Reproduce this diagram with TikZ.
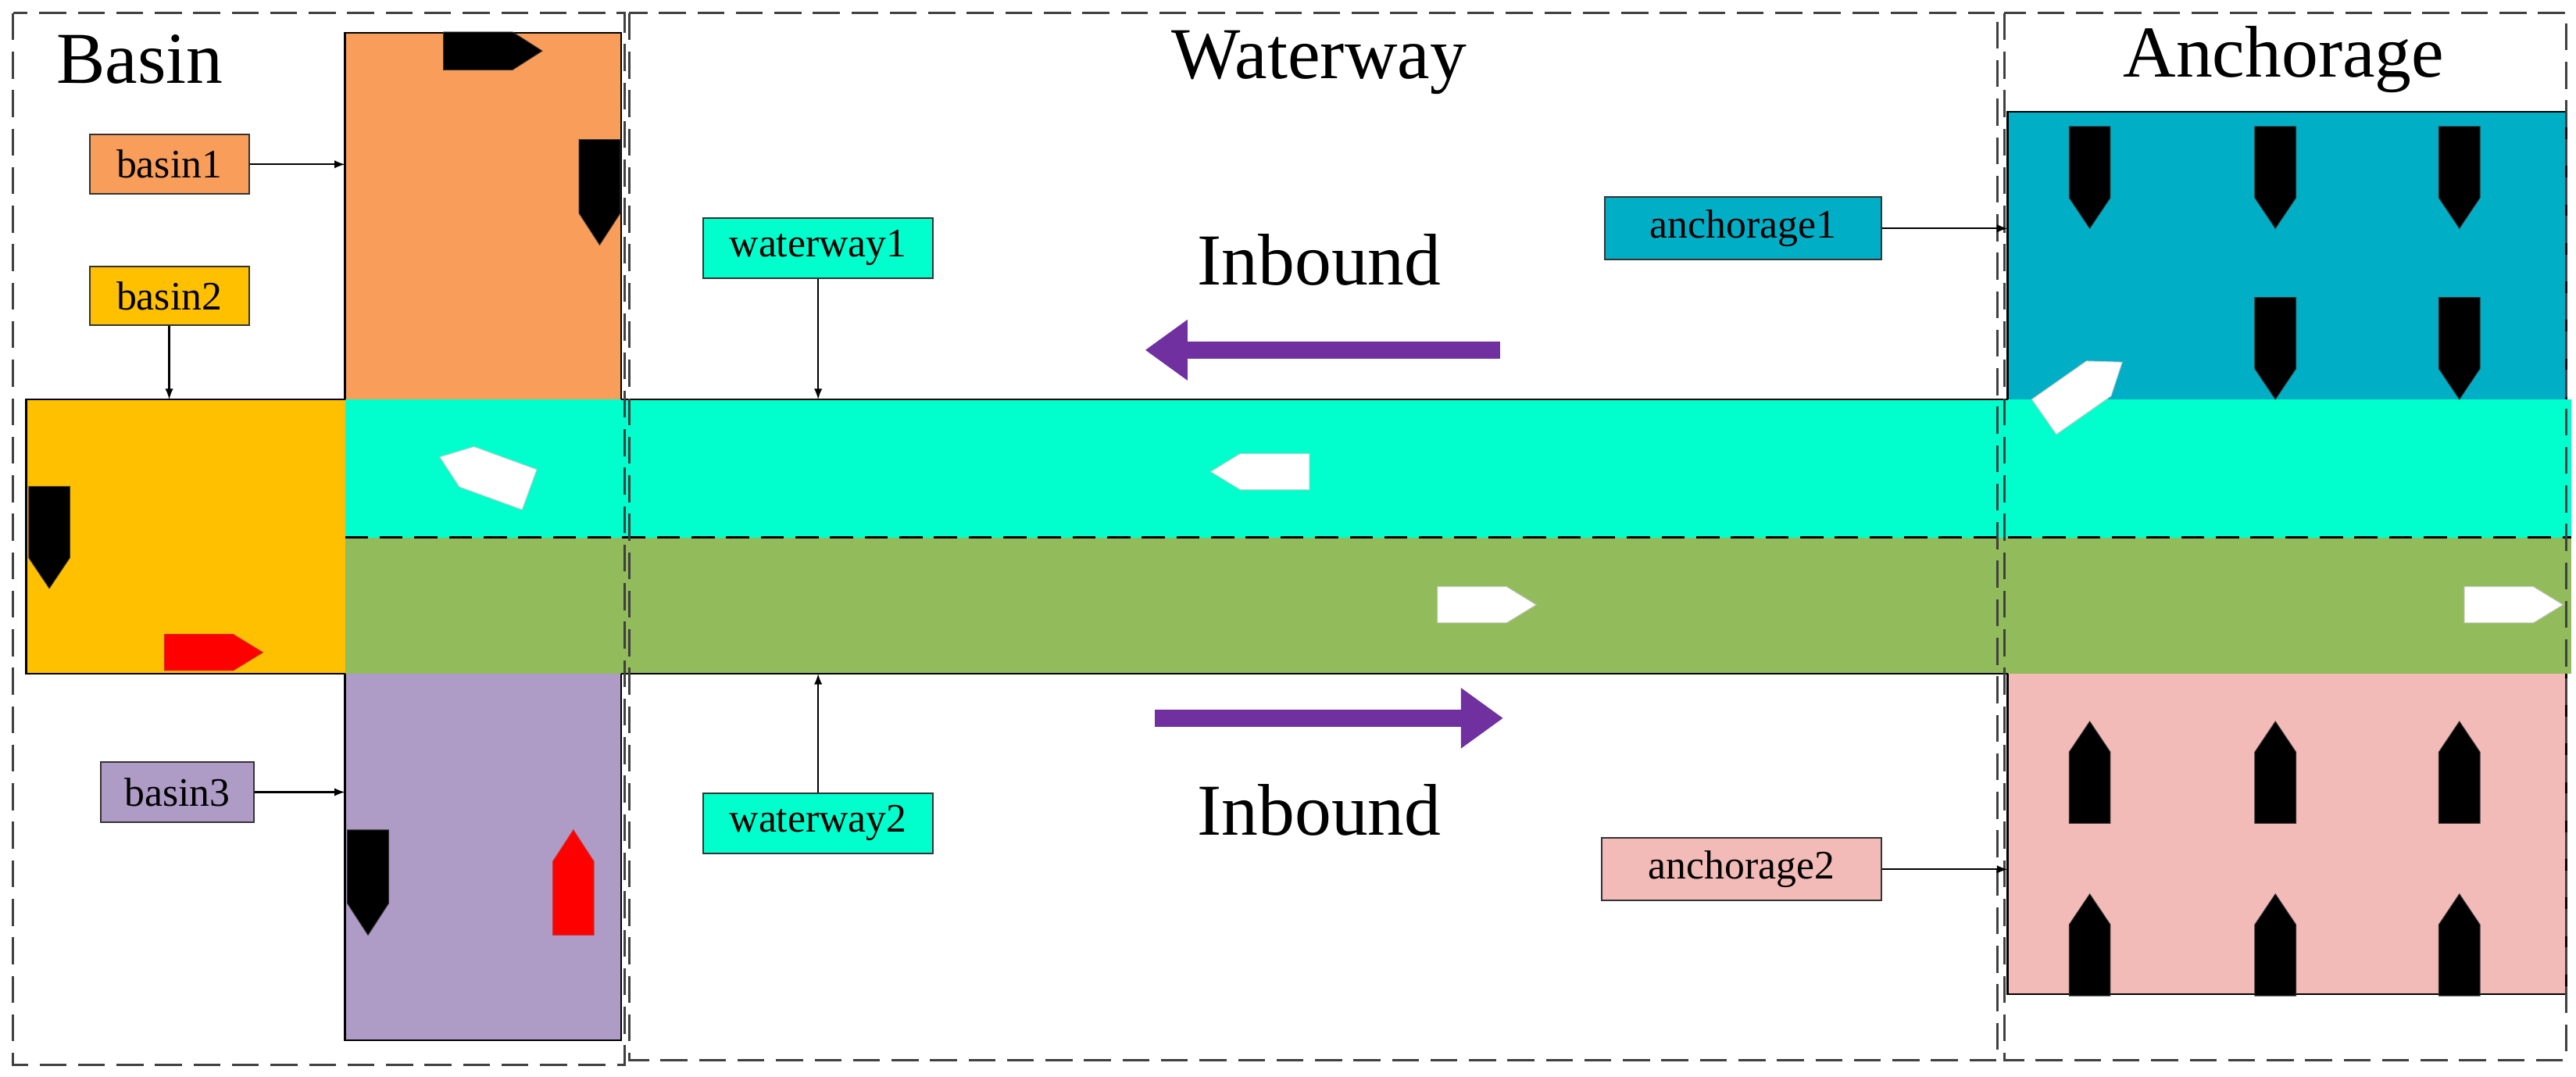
\documentclass[tikz,border=0pt]{standalone}
\usepackage{fontspec}
\setmainfont{Liberation Serif}
\begin{document}
\begin{tikzpicture}[x=0.03cm,y=-0.03cm,
  dbox/.style={draw=black!75,dashed,line width=1.2pt,dash pattern=on 14pt off 6pt},
  lbl/.style={draw=black!80,line width=0.8pt,inner sep=0pt,font=\fontsize{21}{24}\selectfont},
  ttl/.style={font=\fontsize{38}{44}\selectfont},
  arr/.style={-latex,line width=0.9pt},
  big/.style={-{Triangle[length=22pt,width=30pt]},line width=9pt,draw={rgb,255:red,112;green,48;blue,160}}]
\usetikzlibrary{arrows.meta}
\definecolor{cOr}{HTML}{F89D5A}\definecolor{cYe}{HTML}{FFC000}
\definecolor{cCy}{HTML}{00FFCC}\definecolor{cGr}{HTML}{92BB5B}
\definecolor{cPu}{HTML}{AF9CC6}\definecolor{cBl}{HTML}{00AEC6}
\definecolor{cPk}{HTML}{F3BBB7}
\newcommand\ship[6]{\begin{scope}[shift={(#1,#2)},rotate=#3]
 \fill[#4,draw=#4!60!gray] (-#5/2,-#6/2)--(#5/5,-#6/2)--(#5/2,0)--(#5/5,#6/2)--(-#5/2,#6/2)--cycle;\end{scope}}
\useasboundingbox (0,0) rectangle (1568,655);
% regions
\fill[cOr] (210,20) rectangle (378,243);
\draw[line width=1pt] (210,243)--(210,20)--(378,20)--(378,243);
\fill[cYe] (16,243) rectangle (210,410);
\draw[line width=1pt] (210,243)--(16,243)--(16,410)--(210,410);
\fill[cCy] (210,243) rectangle (1565,327);
\fill[cGr] (210,327) rectangle (1565,410);
\draw[dashed,line width=1.2pt,dash pattern=on 12pt off 6pt] (210,327)--(1565,327);
\fill[cPu] (210,410) rectangle (378,633);
\draw[line width=1pt] (210,410)--(210,633)--(378,633)--(378,410);
\fill[cBl] (1222,68) rectangle (1562,243);
\draw[line width=1pt] (1222,243)--(1222,68)--(1562,68)--(1562,243);
\fill[cPk] (1222,410) rectangle (1562,605);
\draw[line width=1pt] (1222,410)--(1222,605)--(1562,605)--(1562,410);
\draw[line width=1pt] (378,243)--(1222,243) (378,410)--(1222,410);
% dashed frames
\draw[dbox] (8,8) rectangle (380,648);
\draw[dbox] (383,8) rectangle (1216,645);
\draw[dbox] (1220,8) rectangle (1562,645);
% titles
\node[ttl] (tB) at (85,36) {Basin};
\node[ttl] (tW) at (803,38) {Waterway};
\node[ttl] (tA) at (1390,36) {Anchorage};
\node[ttl] (i1) at (803,158) {Inbound};
\node[ttl] (i2) at (803,493) {Inbound};
% purple arrows
\coordinate (p1a) at (913,213); \coordinate (p1b) at (697,213);
\coordinate (p2a) at (703,437); \coordinate (p2b) at (915,437);
\draw[big] (p1a)--(p1b);
\draw[big] (p2a)--(p2b);
% labels
\node[lbl,fill=cOr,minimum width=97\pgflinewidth,text width=2.91cm,align=center,minimum height=1.08cm] (b1) at (103,100) {basin1};
\node[lbl,fill=cYe,text width=2.91cm,align=center,minimum height=1.08cm] (b2) at (103,180) {basin2};
\node[lbl,fill=cPu,text width=2.79cm,align=center,minimum height=1.11cm] (b3) at (108,482) {basin3};
\node[lbl,fill=cCy,text width=4.2cm,align=center,minimum height=1.11cm] (w1) at (498,151) {waterway1};
\node[lbl,fill=cCy,text width=4.2cm,align=center,minimum height=1.11cm] (w2) at (498,501) {waterway2};
\node[lbl,fill=cBl,text width=5.04cm,align=center,minimum height=1.14cm] (a1) at (1061,139) {anchorage1};
\node[lbl,fill=cPk,text width=5.1cm,align=center,minimum height=1.14cm] (a2) at (1060,529) {anchorage2};
\coordinate (eb1) at (210,100); \coordinate (eb2) at (103,243);
\coordinate (eb3) at (210,482); \coordinate (ew1) at (498,243);
\coordinate (ew2) at (498,410); \coordinate (ea1) at (1222,139);
\coordinate (ea2) at (1222,529);
\draw[arr] (b1)--(eb1); \draw[arr] (b2)--(eb2); \draw[arr] (b3)--(eb3);
\draw[arr] (w1)--(ew1); \draw[arr] (w2)--(ew2);
\draw[arr] (a1)--(ea1); \draw[arr] (a2)--(ea2);
% ships
\ship{300}{31}{0}{black}{60}{23}
\ship{365}{117}{-90}{black}{64}{25}
\ship{30}{327}{-90}{black}{62}{25}
\ship{130}{397}{0}{red}{60}{22}
\ship{224}{537}{-90}{black}{64}{25}
\ship{349}{537}{90}{red}{64}{25}
\foreach \xx in {1272,1385,1497}{\ship{\xx}{108}{-90}{black}{62}{25}}
\foreach \xx in {1385,1497}{\ship{\xx}{212}{-90}{black}{62}{25}}
\foreach \xx in {1272,1385,1497}{\ship{\xx}{470}{90}{black}{62}{25}\ship{\xx}{575}{90}{black}{62}{25}}
\ship{295}{288}{160}{white}{58}{26}
\ship{767}{287}{180}{white}{60}{22}
\ship{905}{368}{0}{white}{60}{22}
\ship{1530}{368}{0}{white}{60}{22}
\ship{1268}{237}{35}{white}{58}{26}
\end{tikzpicture}
\end{document}
